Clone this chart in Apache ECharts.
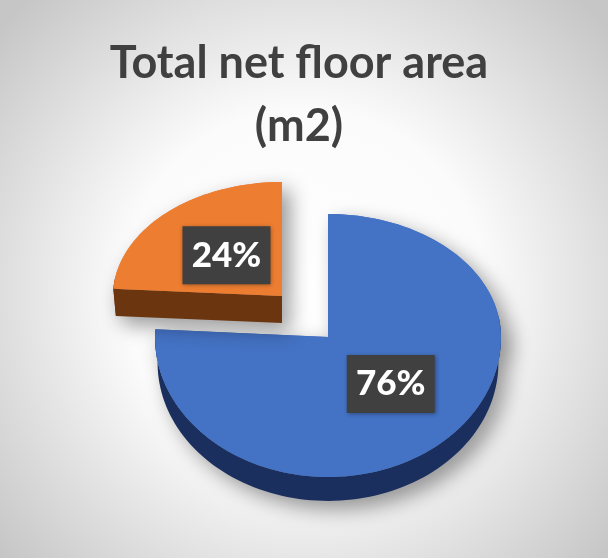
<!DOCTYPE html>
<html><head><meta charset="utf-8">
<style>html,body{margin:0;padding:0;background:#fff}#c{width:608px;height:558px}</style>
<script src="https://cdn.jsdelivr.net/npm/echarts@6/dist/echarts.min.js"></script>
</head><body><div id="c"></div>
<script>
var titleLines = ['Total net floor area', '(m2)'];
var sliceShares = [76, 24];
var sliceColors = ['#4472C4', '#ED7D31'];
var sideColors = ['#1B2F5E', '#6B3510'];

var geometry = [
  {cx: 328, cy: 337, rx: 173, ryTop: 123, ryBottom: 140, depth: 26, labelX: 0.53, labelY: 0.46},
  {cx: 282, cy: 296, rx: 169, ryTop: 114, ryBottom: 130, depth: 27, labelX: 0.48, labelY: 0.49}
];
var D2R = Math.PI / 180;
function pt(g, deg, shift) {
  var s = Math.sin(deg * D2R), c = Math.cos(deg * D2R);
  var k = shift ? 0.985 : 1;
  return [g.cx + g.rx * k * s, g.cy - (c > 0 ? g.ryTop : g.ryBottom) * k * c + (shift ? g.depth : 0)];
}
function arc(g, a0, a1, shift) {
  var out = [], n = Math.max(2, Math.ceil(Math.abs(a1 - a0) / 2));
  for (var i = 0; i <= n; i++) out.push(pt(g, a0 + (a1 - a0) * i / n, shift));
  return out;
}
var total = sliceShares.reduce(function (a, b) { return a + b; }, 0);
var shadow = {shadowColor: 'rgba(0,0,0,0.4)', shadowBlur: 20, shadowOffsetX: 8, shadowOffsetY: 8};

function renderSlice(params, api) {
  var i = params.dataIndex, g = geometry[i];
  var before = 0;
  for (var j = 0; j < i; j++) before += sliceShares[j];
  var value = api.value(0);
  var a0 = before / total * 360, a1 = (before + value) / total * 360;
  var apex = [g.cx, g.cy], apexLow = [g.cx, g.cy + g.depth];
  var top = [apex].concat(arc(g, a0, a1, false));
  var kids = [];
  kids.push({type: 'polygon', shape: {points: top}, style: Object.assign({fill: sliceColors[i]}, shadow)});
  var wa = Math.max(a0, 80), wb = Math.min(a1, 280);
  if (wb > wa) {
    var wall = arc(g, wa, wb, false).concat(arc(g, wa, wb, true).reverse());
    kids.push({type: 'polygon', shape: {points: wall}, style: Object.assign({fill: sideColors[i]}, shadow)});
  }
  if (a0 > 180) {
    var p = pt(g, a0, false), q = pt(g, a0, true);
    kids.push({type: 'polygon', shape: {points: [p, apex, apexLow, q]}, style: Object.assign({fill: sideColors[i]}, shadow)});
  }
  kids.push({type: 'polygon', shape: {points: top}, style: {fill: sliceColors[i]}});
  var mid = (a0 + a1) / 2, s = Math.sin(mid * D2R), c = Math.cos(mid * D2R);
  var lx = g.cx + g.rx * g.labelX * s, ly = g.cy - (c > 0 ? g.ryTop : g.ryBottom) * g.labelY * c;
  kids.push({type: 'rect', shape: {x: lx - 44, y: ly - 29, width: 88, height: 58},
    style: {fill: '#404040', shadowColor: 'rgba(0,0,0,0.35)', shadowBlur: 4, shadowOffsetX: 1, shadowOffsetY: 1}});
  kids.push({type: 'text', style: {x: lx, y: ly, text: value + '%', fill: '#fff', align: 'center', verticalAlign: 'middle',
    font: '900 35px Lato'}});
  return {type: 'group', children: kids};
}

var chart = echarts.init(document.getElementById('c'));
chart.setOption({
  animation: false,
  backgroundColor: new echarts.graphic.RadialGradient(0.5, 0.52, 0.72, [
    {offset: 0, color: '#ffffff'}, {offset: 0.45, color: '#fbfbfb'}, {offset: 1, color: '#c6c6c6'}
  ]),
  title: {text: titleLines.join('\n'), left: 294, top: 27, textAlign: 'center',
    textStyle: {fontFamily: 'Lato', fontWeight: 'bold', fontSize: 45, lineHeight: 63, color: '#404040'}},
  series: [{type: 'custom', coordinateSystem: 'none', renderItem: renderSlice,
    data: sliceShares.map(function (v) { return [v]; })}]
});
</script></body></html>
